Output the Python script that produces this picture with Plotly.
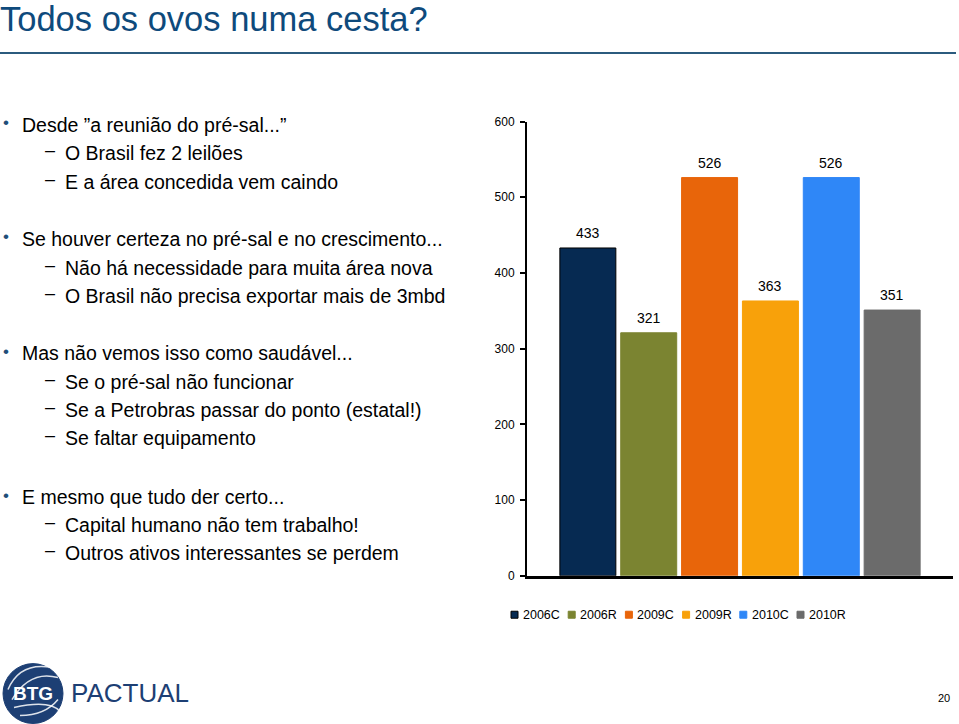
import plotly.graph_objects as go

# ---- data ----
series = ["2006C", "2006R", "2009C", "2009R", "2010C", "2010R"]
values = [433, 321, 526, 363, 526, 351]
colors = ["#062a52", "#7b8431", "#e8650a", "#f8a10a", "#2f87f7", "#6b6b6b"]
y_ticks = [0, 100, 200, 300, 400, 500, 600]

title = "Todos os ovos numa cesta?"
bullets = [
    (0, "Desde \u201da reunião do pré-sal...\u201d", 124),
    (1, "O Brasil fez 2 leilões", 152),
    (1, "E a área concedida vem caindo", 181),
    (0, "Se houver certeza no pré-sal e no crescimento...", 238),
    (1, "Não há necessidade para muita área nova", 267),
    (1, "O Brasil não precisa exportar mais de 3mbd", 296),
    (0, "Mas não vemos isso como saudável...", 353),
    (1, "Se o pré-sal não funcionar", 382),
    (1, "Se a Petrobras passar do ponto (estatal!)", 410),
    (1, "Se faltar equipamento", 438),
    (0, "E mesmo que tudo der certo...", 497),
    (1, "Capital humano não tem trabalho!", 525),
    (1, "Outros ativos interessantes se perdem", 553),
]

W, H = 959, 724
FONT = "Liberation Sans, Arial, Helvetica, sans-serif"

# paper area as it ends up on the page
P_TOP, P_H = 5.9, 711.6


def px(x):
    return x / W


def py(y):
    return 1 - (y - P_TOP) / P_H


fig = go.Figure()
for i, (s, v, c) in enumerate(zip(series, values, colors)):
    fig.add_trace(go.Bar(
        x=[i], y=[v], name=s,
        marker=dict(color=c, line=dict(color="#000000" if i == 0 else c, width=1)),
        hoverinfo="name+y", showlegend=False,
    ))

annotations = []
shapes = []
# value labels above bars
for i, v in enumerate(values):
    annotations.append(dict(x=i, y=v, xref="x", yref="y", text=str(v), showarrow=False,
                            yanchor="middle", yshift=15,
                            font=dict(family=FONT, size=14, color="#000000")))

# legend (compact, as in the original slide)
for i, (s, c) in enumerate(zip(series, colors)):
    x0 = 511 + i * 57.2
    shapes.append(dict(type="rect", xref="paper", yref="paper",
                       x0=px(x0), x1=px(x0 + 7), y0=py(618.5), y1=py(611.5),
                       fillcolor=c, line=dict(color="#000000" if i == 0 else c, width=1)))
    annotations.append(dict(x=px(x0 + 10), y=py(615), xref="paper", yref="paper", text=s,
                            showarrow=False, xanchor="left", yanchor="middle",
                            font=dict(family=FONT, size=12.5, color="#000000")))

# title
annotations.append(dict(x=px(-2), y=py(18), xref="paper", yref="paper", text=title,
                        showarrow=False, xanchor="left", yanchor="middle",
                        font=dict(family=FONT, size=34.5, color="#0e4a7c")))

# bullets text
for lvl, txt, yy in bullets:
    if lvl == 0:
        annotations.append(dict(x=px(1), y=py(yy - 2), xref="paper", yref="paper", text="•",
                                showarrow=False, xanchor="left", yanchor="middle",
                                font=dict(family=FONT, size=17, color="#1f4e79")))
        annotations.append(dict(x=px(20), y=py(yy), xref="paper", yref="paper", text=txt,
                                showarrow=False, xanchor="left", yanchor="middle",
                                font=dict(family=FONT, size=19.5, color="#000000")))
    else:
        annotations.append(dict(x=px(43), y=py(yy - 3), xref="paper", yref="paper", text="\u2013",
                                showarrow=False, xanchor="left", yanchor="middle",
                                font=dict(family=FONT, size=18, color="#000000")))
        annotations.append(dict(x=px(63), y=py(yy), xref="paper", yref="paper", text=txt,
                                showarrow=False, xanchor="left", yanchor="middle",
                                font=dict(family=FONT, size=19.5, color="#000000")))

# logo text
annotations.append(dict(x=px(33), y=py(694), xref="paper", yref="paper", text="<b>BTG</b>",
                        showarrow=False, xanchor="center", yanchor="middle",
                        font=dict(family=FONT, size=19, color="#ffffff")))
annotations.append(dict(x=px(69), y=py(693), xref="paper", yref="paper", text="PACTUAL",
                        showarrow=False, xanchor="left", yanchor="middle",
                        font=dict(family=FONT, size=26, color="#1d3f74")))
# page number
annotations.append(dict(x=px(944), y=py(698), xref="paper", yref="paper", text="20",
                        showarrow=False, xanchor="center", yanchor="middle",
                        font=dict(family=FONT, size=11, color="#000000")))

shapes += [
    dict(type="line", xref="paper", yref="paper", x0=0, x1=px(956), y0=py(52), y1=py(52),
         line=dict(color="#2b5b7e", width=2)),
    dict(type="circle", xref="paper", yref="paper", x0=px(3), x1=px(63), y0=py(664), y1=py(724),
         fillcolor="#1d3f74", line=dict(color="#1d3f74", width=1)),
]
# logo swooshes (decorative arcs)
for (x0, y0, cx, cy, x1, y1) in [(8, 690, 20, 662, 52, 668), (12, 700, 30, 670, 58, 678),
                                  (14, 708, 50, 700, 60, 712), (20, 716, 45, 716, 58, 700)]:
    shapes.append(dict(type="path", xref="paper", yref="paper",
                       path=f"M {px(x0)},{py(y0)} Q {px(cx)},{py(cy)} {px(x1)},{py(y1)}",
                       line=dict(color="rgba(255,255,255,0.85)", width=1.5)))

fig.update_layout(
    width=W, height=H,
    margin=dict(l=0, r=0, t=0, b=0),
    paper_bgcolor="#ffffff", plot_bgcolor="#ffffff",
    barmode="overlay", bargap=0.08,
    showlegend=False,
    xaxis=dict(domain=[px(527), px(953)], range=[-1, 6], showticklabels=False, ticks="",
               showgrid=False, zeroline=False, showline=True, linecolor="#000000", linewidth=3,
               fixedrange=True),
    yaxis=dict(domain=[py(576), py(120.7)], range=[0, 600], tickvals=y_ticks,
               ticks="outside", ticklen=5, tickwidth=1.5, tickcolor="#000000",
               showgrid=False, zeroline=False, showline=True, linecolor="#000000", linewidth=2,
               tickfont=dict(family=FONT, size=12, color="#000000"), ticklabelstandoff=3,
               fixedrange=True),
    annotations=annotations,
    shapes=shapes,
)

fig.write_html("out.html")
